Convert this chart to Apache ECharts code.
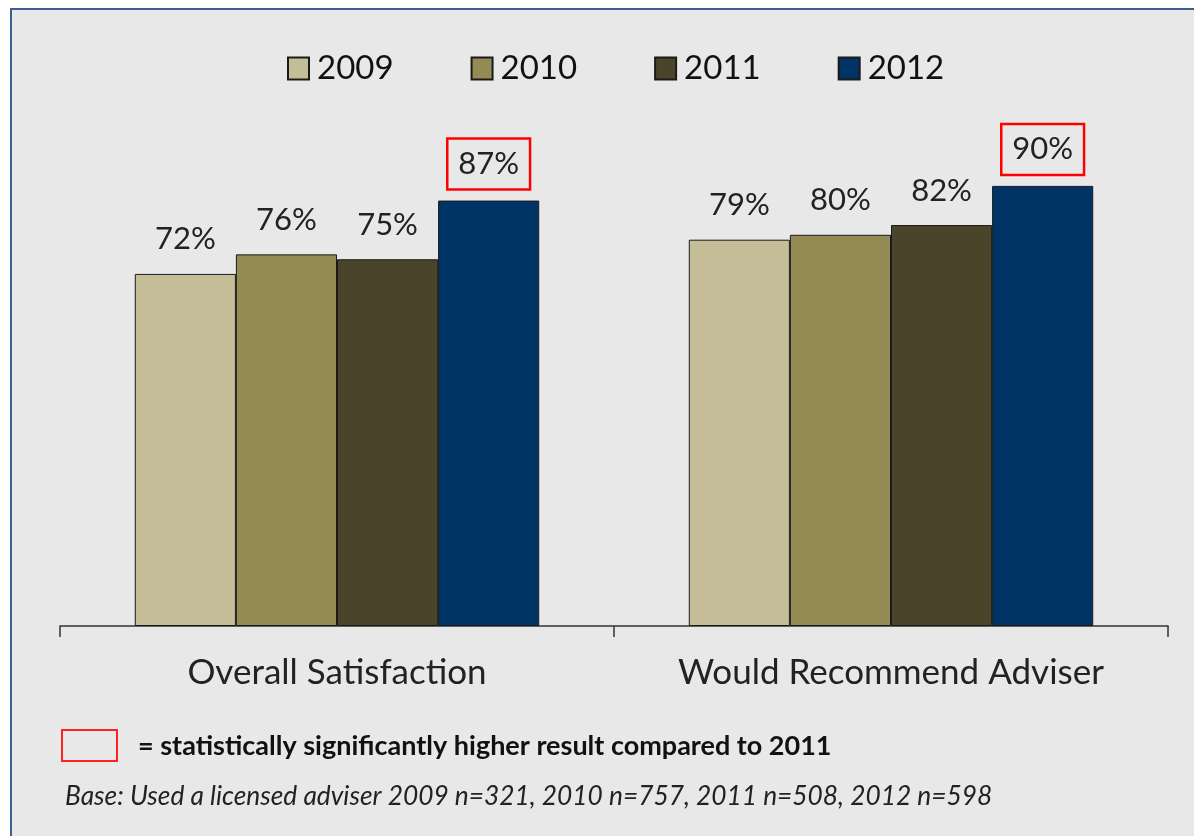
<!DOCTYPE html>
<html>
<head>
<meta charset="utf-8">
<script src="https://cdn.jsdelivr.net/npm/echarts@6/dist/echarts.min.js"></script>
<style>
html,body{margin:0;padding:0;background:#fff;}
#c{width:1194px;height:836px;}
</style>
</head>
<body>
<div id="c"></div>
<script>
const categories = ['Overall Satisfaction', 'Would Recommend Adviser'];
const years = ['2009', '2010', '2011', '2012'];
const values2009 = [72, 79];
const values2010 = [76, 80];
const values2011 = [75, 82];
const values2012 = [87, 90];
const colors = ['#c4bd97', '#948a54', '#4a452a', '#003366'];
const noteText = '= statistically significantly higher result compared to 2011';
const baseText = 'Base: Used a licensed adviser 2009 n=321, 2010 n=757, 2011 n=508, 2012 n=598';

const FONT = 'Lato';
const seriesData = [values2009, values2010, values2011, values2012];

const chart = echarts.init(document.getElementById('c'));
const series = years.map((y, i) => {
  const boxed = i === 3;
  return {
    name: y,
    type: 'bar',
    data: seriesData[i],
    barGap: '0%',
    barCategoryGap: '27%',
    itemStyle: { color: colors[i], borderColor: '#1a1a1a', borderWidth: 1 },
    label: {
      show: true,
      position: 'top',
      formatter: '{c}%',
      fontFamily: FONT,
      fontSize: 31,
      color: '#222',
      distance: boxed ? 11 : 19,
      borderColor: boxed ? '#ff0000' : 'transparent',
      borderWidth: boxed ? 2.5 : 0,
      padding: boxed ? [10, 11, 10, 11] : 0
    }
  };
});

chart.setOption({
  backgroundColor: '#ffffff',
  animation: false,
  graphic: [
    { type: 'rect', z: -10, shape: { x: 11, y: 9, width: 1194, height: 836 }, style: { fill: '#e8e8e8' } },
    { type: 'line', z: 10, shape: { x1: 10, y1: 9, x2: 1194, y2: 9 }, style: { stroke: '#3b5f91', lineWidth: 2 } },
    { type: 'line', z: 10, shape: { x1: 11, y1: 8, x2: 11, y2: 836 }, style: { stroke: '#3b5f91', lineWidth: 2 } },
    { type: 'rect', z: 10, shape: { x: 62, y: 730, width: 55, height: 31 }, style: { fill: 'none', stroke: '#ff2020', lineWidth: 2 } },
    { type: 'text', z: 10, x: 138, y: 746, style: { text: noteText, fontFamily: FONT, fontWeight: 'bold', fontSize: 27, fill: '#111', verticalAlign: 'middle', align: 'left' } },
    { type: 'text', z: 10, x: 65, y: 797, style: { text: baseText, fontFamily: FONT, fontStyle: 'italic', fontSize: 26.3, fill: '#222', verticalAlign: 'middle', align: 'left' } }
  ],
  legend: {
    top: 47,
    left: 282,
    icon: 'rect',
    itemWidth: 21,
    itemHeight: 22,
    itemGap: 77,
    textStyle: { fontFamily: FONT, fontSize: 33, color: '#111', padding: [0, 0, 0, 3] },
    data: years
  },
  grid: { left: 60, right: 26, top: 137, bottom: 210 },
  xAxis: {
    type: 'category',
    data: categories,
    axisLine: { lineStyle: { color: '#333', width: 1.5 } },
    axisTick: { show: true, length: 11, lineStyle: { color: '#333', width: 1.5 } },
    axisLabel: { fontFamily: FONT, fontSize: 35, color: '#222', margin: 29 }
  },
  yAxis: {
    type: 'value',
    min: 0,
    max: 100,
    show: false,
    splitLine: { show: false }
  },
  series: series
});
</script>
</body>
</html>
